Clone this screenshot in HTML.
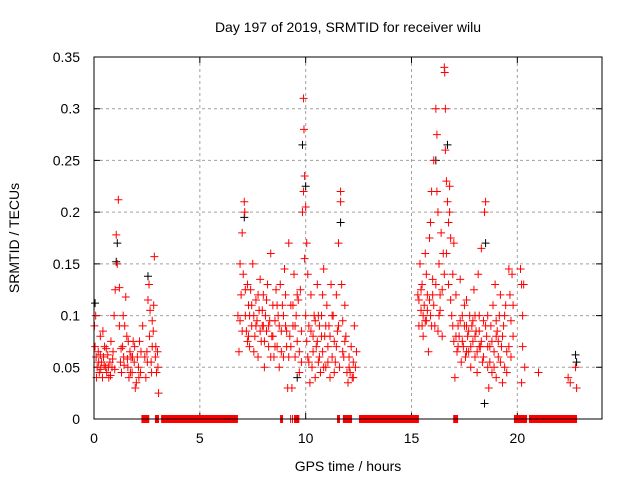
<!DOCTYPE html>
<html><head><meta charset="utf-8"><style>
body{margin:0;background:#fff}
svg text{font-family:"Liberation Sans",sans-serif;fill:#000}
</style></head><body>
<svg id="c" width="640" height="480" xmlns="http://www.w3.org/2000/svg">
<rect width="640" height="480" fill="#fff"/>
<text x="348" y="32" font-size="14" text-anchor="middle">Day 197 of 2019, SRMTID for receiver wilu</text>
<text x="348" y="471" font-size="14" text-anchor="middle">GPS time / hours</text>
<text transform="translate(19,238) rotate(-90)" font-size="14" text-anchor="middle">SRMTID / TECUs</text>
<g id="grid"></g><g id="ticks"></g><g id="marks"></g>
<rect x="94" y="57" width="508" height="362" fill="none" stroke="#000" stroke-width="1"/>
</svg>
<script>
const xTicks=[0,5,10,15,20];
const yTicks=[0,0.05,0.1,0.15,0.2,0.25,0.3,0.35];
const yTickLabels=["0","0.05","0.1","0.15","0.2","0.25","0.3","0.35"];
const redHours=[0.05,0.1,0.15,0.2,0.25,0.3,0.35,0.4,0.45,0.5,0.55,0.6,0.65,0.7,0.75,0.8,0.85,0.9,0.95,1.0,1.05,1.1,1.15,1.2,1.25,1.3,1.35,1.4,1.45,1.5,1.55,1.6,1.65,1.7,1.75,1.8,1.85,1.9,1.95,2.0,2.05,2.1,2.15,2.2,2.3,2.4,2.5,2.55,2.6,2.65,2.7,2.75,2.8,2.85,2.9,2.95,3.0,3.05,0.02,0.08,1.58,2.45,0.42,2.82,1.38,
6.8,6.85,6.9,6.95,7.0,7.05,7.1,7.15,7.2,7.25,7.3,7.35,7.4,7.45,7.5,7.55,7.6,7.65,7.7,7.75,7.8,7.85,7.9,7.95,8.0,8.05,8.1,8.15,8.2,8.25,8.3,8.35,8.4,8.45,8.5,8.55,8.6,8.65,8.7,8.75,8.8,8.85,8.9,8.95,9.0,9.05,9.1,9.15,9.2,9.25,9.3,9.35,9.4,9.45,9.5,9.55,9.6,9.65,9.7,9.75,9.8,9.85,9.9,9.92,9.95,10.0,10.05,10.1,10.15,10.2,10.25,10.3,10.35,10.4,10.45,10.5,10.55,10.6,10.65,10.7,10.75,10.8,10.85,10.9,10.95,11.0,11.05,11.1,11.15,11.2,11.25,11.3,11.35,11.4,11.45,11.5,11.55,11.6,11.65,11.7,11.75,11.8,11.85,11.9,11.95,12.0,12.05,12.1,12.15,12.2,12.25,12.3,12.35,12.4,10.0,9.9,7.12,8.0,9.05,10.6,7.3,11.65,10.8,
15.3,15.35,15.4,15.45,15.5,15.55,15.6,15.65,15.7,15.75,15.8,15.85,15.9,15.95,16.0,16.05,16.1,16.15,16.2,16.25,16.3,16.35,16.4,16.45,16.5,16.55,16.57,16.6,16.65,16.7,16.75,16.8,16.85,16.9,16.95,17.0,17.05,17.1,17.15,17.2,17.25,17.3,17.35,17.4,17.45,17.5,17.55,17.6,17.65,17.7,17.75,17.8,17.85,17.9,17.95,18.0,18.05,18.1,18.15,18.2,18.25,18.3,18.35,18.4,18.45,18.5,18.55,18.6,18.65,18.7,18.75,18.8,18.85,18.9,18.95,19.0,19.05,19.1,19.15,19.2,19.25,19.3,19.35,19.4,19.45,19.5,19.6,19.65,19.7,19.75,19.8,15.5,15.7,16.0,16.3,17.0,17.6,18.0,18.2,18.6,19.0,16.8,
20.15,20.2,20.25,20.25,20.2,20.3,20.35,21.0,22.4,22.5,22.8,22.75,
0.12,0.22,0.32,0.48,0.58,0.68,0.78,0.88,0.98,1.28,1.42,1.62,1.72,1.82,1.92,2.12,2.22,2.52,2.62,2.72,2.92,3.02,0.3,2.75,1.2,
6.9,7.0,7.15,7.25,7.35,7.45,7.55,7.65,7.75,7.85,7.95,8.05,8.15,8.25,8.35,8.45,8.55,8.65,8.75,8.85,8.95,9.1,9.2,9.3,9.4,9.5,9.6,9.7,9.8,10.05,10.15,10.25,10.35,10.45,10.55,10.65,10.75,10.85,10.95,11.05,11.15,11.25,11.35,11.45,11.55,11.75,11.85,12.05,12.25,9.95,10.1,
15.35,15.45,15.55,15.65,15.75,15.85,15.95,16.05,16.15,16.25,16.35,16.45,16.55,16.65,16.75,16.85,16.95,17.1,17.2,17.3,17.4,17.5,17.6,17.7,17.8,17.9,18.0,18.1,18.2,18.3,18.4,18.5,18.6,18.7,18.8,18.9,19.0,19.1,19.2,19.3,19.4,19.5,19.6,19.7,19.8,16.6,16.2,15.9];
const redValues=[0.07,0.06,0.05,0.065,0.045,0.08,0.055,0.04,0.06,0.07,0.05,0.045,0.062,0.04,0.055,0.075,0.05,0.065,0.1,0.125,0.178,0.15,0.212,0.127,0.055,0.045,0.07,0.06,0.09,0.118,0.08,0.05,0.04,0.065,0.06,0.045,0.075,0.055,0.03,0.035,0.06,0.05,0.075,0.045,0.09,0.06,0.065,0.115,0.13,0.105,0.055,0.07,0.085,0.157,0.06,0.045,0.065,0.025,0.09,0.1,0.058,0.04,0.085,0.11,0.1,
0.1,0.065,0.15,0.12,0.18,0.14,0.21,0.1,0.085,0.13,0.11,0.07,0.125,0.09,0.15,0.1,0.08,0.115,0.095,0.06,0.105,0.135,0.075,0.09,0.12,0.05,0.1,0.085,0.13,0.07,0.095,0.16,0.08,0.11,0.06,0.095,0.125,0.07,0.1,0.05,0.13,0.085,0.11,0.06,0.145,0.09,0.07,0.03,0.17,0.08,0.11,0.03,0.09,0.14,0.06,0.1,0.075,0.115,0.045,0.125,0.085,0.2,0.31,0.28,0.235,0.1,0.17,0.06,0.09,0.035,0.12,0.05,0.08,0.1,0.04,0.07,0.13,0.055,0.09,0.045,0.1,0.065,0.145,0.08,0.05,0.11,0.07,0.09,0.04,0.13,0.06,0.1,0.075,0.055,0.12,0.085,0.17,0.05,0.21,0.13,0.095,0.06,0.11,0.08,0.045,0.035,0.06,0.045,0.07,0.04,0.055,0.09,0.05,0.065,0.205,0.22,0.2,0.09,0.12,0.1,0.08,0.22,0.12,
0.12,0.09,0.15,0.105,0.13,0.08,0.11,0.16,0.095,0.12,0.065,0.175,0.1,0.22,0.135,0.25,0.09,0.3,0.275,0.2,0.15,0.12,0.18,0.08,0.16,0.34,0.335,0.3,0.23,0.21,0.13,0.225,0.175,0.1,0.14,0.075,0.04,0.12,0.065,0.09,0.08,0.135,0.055,0.1,0.07,0.09,0.06,0.115,0.08,0.065,0.1,0.05,0.09,0.075,0.125,0.06,0.085,0.045,0.14,0.1,0.07,0.165,0.055,0.095,0.2,0.21,0.08,0.05,0.03,0.07,0.09,0.045,0.11,0.065,0.13,0.04,0.085,0.06,0.1,0.12,0.07,0.035,0.09,0.05,0.11,0.065,0.145,0.12,0.095,0.14,0.08,0.09,0.14,0.12,0.1,0.17,0.09,0.1,0.07,0.07,0.08,0.2,
0.145,0.13,0.1,0.07,0.035,0.13,0.05,0.045,0.04,0.035,0.03,0.05,
0.04,0.055,0.048,0.052,0.068,0.05,0.042,0.058,0.048,0.068,0.052,0.075,0.045,0.06,0.07,0.04,0.065,0.055,0.08,0.045,0.07,0.05,0.062,0.095,0.09,
0.095,0.085,0.125,0.075,0.1,0.11,0.065,0.09,0.12,0.085,0.105,0.075,0.115,0.09,0.06,0.08,0.07,0.11,0.09,0.065,0.1,0.085,0.06,0.07,0.11,0.09,0.12,0.065,0.055,0.075,0.055,0.085,0.065,0.095,0.075,0.06,0.08,0.05,0.09,0.055,0.08,0.1,0.045,0.07,0.09,0.065,0.075,0.05,0.04,0.155,0.14,
0.115,0.125,0.1,0.095,0.105,0.115,0.09,0.11,0.13,0.085,0.105,0.125,0.14,0.16,0.19,0.115,0.09,0.08,0.07,0.095,0.075,0.11,0.065,0.085,0.07,0.095,0.08,0.065,0.085,0.075,0.06,0.09,0.1,0.055,0.075,0.05,0.095,0.075,0.055,0.08,0.1,0.045,0.07,0.06,0.11,0.26,0.22,0.19];
const blackHours=[0.05,1.1,1.05,2.55,9.85,10.0,9.6,16.15,16.7,18.5,18.45,22.75,22.8,7.1,11.65];
const blackValues=[0.112,0.17,0.152,0.138,0.265,0.225,0.04,0.25,0.265,0.17,0.015,0.062,0.055,0.195,0.19];
const zeroStart=[2.24,2.88,3.17,8.79,9.26,9.35,9.45,11.48,11.76,12.52,16.97,19.84,20.55];
const zeroEnd=[2.61,3.07,6.8,8.93,9.3,9.4,9.7,11.62,12.19,15.35,17.2,20.46,22.82];

const NS='http://www.w3.org/2000/svg';
const X=h=>94+h*(508/24);
const Y=v=>419-v*(362/0.35);
function mk(tag,attrs,parent){const e=document.createElementNS(NS,tag);for(const k in attrs)e.setAttribute(k,attrs[k]);document.getElementById(parent).appendChild(e);return e;}
xTicks.forEach(t=>{
  if(t>0){const g=mk('line',{x1:X(t),x2:X(t),y1:57,y2:419,stroke:'#a0a0a0','stroke-dasharray':'3,3'},'grid');
  
  }
  const tk=mk('path',{d:`M${X(t)},419v-6M${X(t)},57v6`,stroke:'#000'},'ticks');
  
  
  const l=mk('text',{x:X(t),y:443,'font-size':14,'text-anchor':'middle'},'ticks');
  l.textContent=String(t);
  
  
});
yTicks.forEach((t,i)=>{
  if(t>0&&t<0.35){const g=mk('line',{x1:94,x2:602,y1:Y(t),y2:Y(t),stroke:'#a0a0a0','stroke-dasharray':'3,3'},'grid');
  
  }
  const tk=mk('path',{d:`M94,${Y(t)}h6M602,${Y(t)}h-6`,stroke:'#000'},'ticks');
  
  
  const l=mk('text',{x:80,y:Y(t)+5,'font-size':14,'text-anchor':'end'},'ticks');
  l.textContent=yTickLabels[i];
  
  
});
function plus(h,v,col,name){
  const x=X(h),y=Y(v);
  const p=mk('path',{d:`M${x-4},${y}h8M${x},${y-4}v8`,stroke:col,'stroke-width':1},'marks');
  
  
}
blackHours.forEach((h,i)=>plus(h,blackValues[i],'#000','black-point'));
redHours.forEach((h,i)=>plus(h,redValues[i],'#f00','red-point'));
zeroStart.forEach((s,i)=>{
  const r=mk('rect',{x:X(s),y:Y(0)-4,width:X(zeroEnd[i])-X(s),height:8,fill:'#f00'},'marks');
  
  
});
</script>
</body></html>
